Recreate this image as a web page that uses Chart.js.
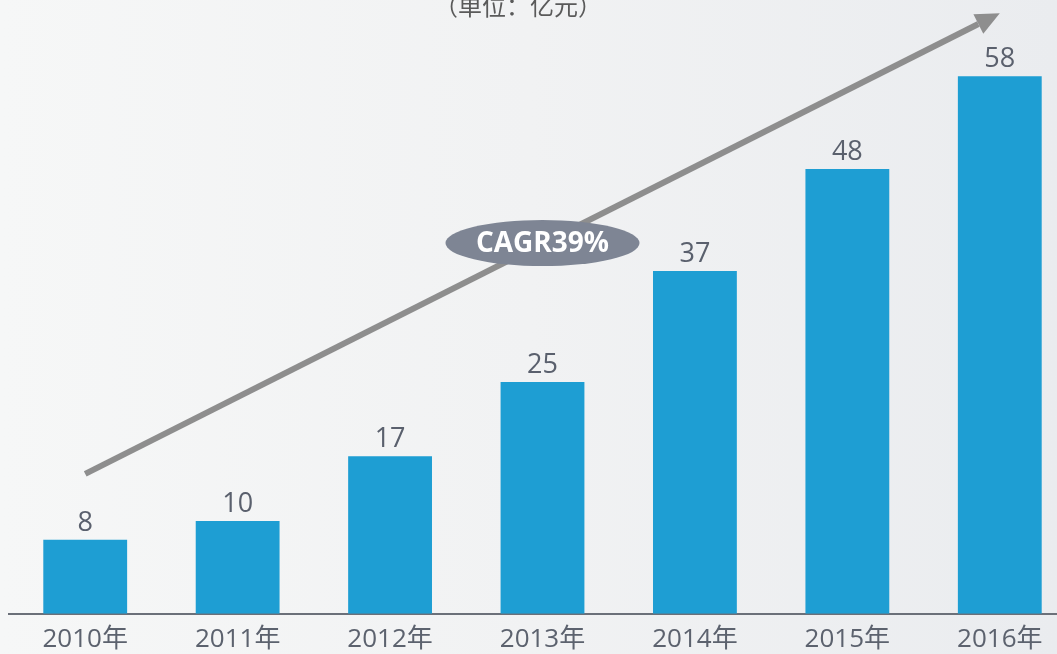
<!DOCTYPE html>
<html>
<head>
<meta charset="utf-8">
<script src="https://cdn.jsdelivr.net/npm/chart.js@4/dist/chart.umd.min.js"></script>
<style>
  html, body { margin: 0; padding: 0; width: 1057px; height: 654px; overflow: hidden; }
  body { background: linear-gradient(90deg, #f6f7f7 0%, #f1f2f3 50%, #eaecef 100%); }
  #wrap { position: absolute; left: 0; top: 0; }
</style>
</head>
<body>
<div id="wrap"><canvas id="chart" width="1076" height="665"></canvas></div>
<script>
const years = ["2010年", "2011年", "2012年", "2013年", "2014年", "2015年", "2016年"];
const revenue = [8, 10, 17, 25, 37, 48, 58];
const unitLabel = "（单位：亿元）";
const cagrLabel = "CAGR39%";
// trend arrow, in category index / value units
const arrowFrom = [0, 15.1];
const arrowTo = [6, 64.8];
const cagrAt = [3, 40];

const fontFamily = '"Open Sans", "Noto Sans CJK SC", sans-serif';

const decorPlugin = {
    id: "decor",
    afterDatasetsDraw(chart) {
        const ctx = chart.ctx;
        const x = chart.scales.x;
        const y = chart.scales.y;

        // value labels above bars
        const meta = chart.getDatasetMeta(0);
        ctx.save();
        ctx.font = "27px " + fontFamily;
        ctx.fillStyle = "#5a606d";
        ctx.textAlign = "center";
        ctx.textBaseline = "bottom";
        meta.data.forEach((bar, i) => {
            ctx.fillText(String(revenue[i]), bar.x, bar.y - 3);
        });

        // unit label at top
        ctx.font = "24px " + fontFamily;
        ctx.fillStyle = "#5a5a5a";
        ctx.textBaseline = "middle";
        ctx.fillText(unitLabel, 518, 8);

        // arrow
        const x1 = x.getPixelForValue(arrowFrom[0]), y1 = y.getPixelForValue(arrowFrom[1]);
        const x2 = x.getPixelForValue(arrowTo[0]), y2 = y.getPixelForValue(arrowTo[1]);
        const ang = Math.atan2(y2 - y1, x2 - x1);
        const headLen = 24, headW = 11;
        const bx = x2 - headLen * Math.cos(ang), by = y2 - headLen * Math.sin(ang);
        ctx.strokeStyle = "#8e8e8e";
        ctx.fillStyle = "#8e8e8e";
        ctx.lineWidth = 6;
        ctx.beginPath();
        ctx.moveTo(x1, y1);
        ctx.lineTo(bx, by);
        ctx.stroke();
        ctx.beginPath();
        ctx.moveTo(x2, y2);
        ctx.lineTo(bx + headW * Math.sin(ang), by - headW * Math.cos(ang));
        ctx.lineTo(bx - headW * Math.sin(ang), by + headW * Math.cos(ang));
        ctx.closePath();
        ctx.fill();

        // CAGR ellipse
        const cx = x.getPixelForValue(cagrAt[0]), cy = y.getPixelForValue(cagrAt[1]);
        ctx.fillStyle = "#7e8594";
        ctx.beginPath();
        ctx.ellipse(cx, cy, 97, 23, 0, 0, Math.PI * 2);
        ctx.fill();
        ctx.fillStyle = "#ffffff";
        ctx.font = "bold 28px " + fontFamily;
        ctx.textAlign = "center";
        ctx.textBaseline = "middle";
        ctx.fillText(cagrLabel, cx, cy + 1);
        ctx.restore();
    }
};

new Chart(document.getElementById("chart"), {
    type: "bar",
    data: {
        labels: years,
        datasets: [{
            data: revenue,
            backgroundColor: "#1e9ed3",
            barPercentage: 0.55,
            categoryPercentage: 1
        }]
    },
    options: {
        responsive: false,
        animation: false,
        layout: { padding: { left: 9, right: 0, top: 67, bottom: 0 } },
        plugins: {
            legend: { display: false },
            tooltip: { enabled: false }
        },
        scales: {
            x: {
                grid: { display: false, drawTicks: false },
                border: { display: true, color: "#6b7079", width: 2 },
                ticks: {
                    color: "#5c626e",
                    font: { size: 26, family: fontFamily },
                    padding: 10,
                    maxRotation: 0
                }
            },
            y: {
                display: false,
                min: 0,
                max: 59
            }
        }
    },
    plugins: [decorPlugin]
});
</script>
</body>
</html>
